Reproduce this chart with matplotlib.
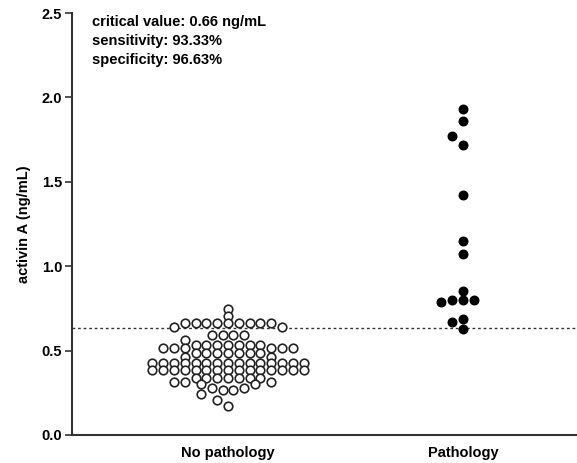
import numpy as np
import matplotlib
matplotlib.use("Agg")
from matplotlib import pyplot as plt

plt.rcParams['font.family'] = ['Liberation Sans', 'DejaVu Sans']

categories = ["No pathology", "Pathology"]

# activin A, ng/mL
no_pathology = [0.745, 0.705,
                0.665, 0.665, 0.665, 0.665, 0.665, 0.665, 0.665, 0.665, 0.665,
                0.64, 0.64,
                0.59, 0.59, 0.59, 0.59, 0.565,
                0.535, 0.535, 0.535, 0.535, 0.535, 0.535, 0.535,
                0.515, 0.515, 0.515, 0.515, 0.515, 0.515,
                0.485, 0.485, 0.485, 0.485, 0.485, 0.485, 0.485,
                0.465, 0.465,
                0.425, 0.425, 0.425, 0.425, 0.425, 0.425, 0.425, 0.425,
                0.425, 0.425, 0.425, 0.425, 0.425, 0.425, 0.425,
                0.385, 0.385, 0.385, 0.385, 0.385, 0.385, 0.385, 0.385,
                0.385, 0.385, 0.385, 0.385, 0.385, 0.385, 0.385,
                0.34, 0.34, 0.34, 0.34, 0.34, 0.34, 0.34,
                0.315, 0.315, 0.315, 0.30, 0.30, 0.28, 0.28, 0.265, 0.265,
                0.245, 0.205, 0.17]
pathology = [1.93, 1.86, 1.77, 1.72, 1.42, 1.15, 1.07, 0.855,
             0.80, 0.80, 0.80, 0.79, 0.69, 0.67, 0.63]

cutoff = 0.635
annotation = ["critical value: 0.66 ng/mL", "sensitivity: 93.33%", "specificity: 96.63%"]


def swarm(ax, values, center, step_px, min_dy_px):
    # GraphPad-like column swarm, worked out in pixel space
    trans = ax.transData
    vals = np.asarray(values)
    ys = np.array([trans.transform((center, v))[1] for v in vals])
    groups = {}
    for i, v in enumerate(vals):
        groups.setdefault(v, []).append(i)
    order = sorted(groups, key=lambda v: (-len(groups[v]), v))
    placed = []
    offsets = np.zeros(len(vals))

    def free(c, y):
        for pc, py in placed:
            if abs(pc - c) < 0.9 and abs(py - y) < min_dy_px:
                return False
        return True

    cands = sorted(np.arange(-30, 31) * 0.5, key=lambda c: (abs(c), c))
    for v in order:
        idx = groups[v]
        n = len(idx)
        y = ys[idx[0]]
        block = [k - (n - 1) / 2 for k in range(n)]
        if all(free(c, y) for c in block):
            for i, c in zip(idx, block):
                placed.append((c, y))
                offsets[i] = c
            continue
        for i in idx:
            for c in cands:
                if free(c, y):
                    placed.append((c, y))
                    offsets[i] = c
                    break
    x0 = trans.transform((center, 0))[0]
    return [trans.inverted().transform((x0 + c * step_px, 0))[0] for c in offsets]


fig = plt.figure(figsize=(5.77, 4.63), dpi=100)
ax = fig.add_axes([0.1248, 0.0605, 0.8752, 0.9114])
ax.set_xlim(-0.664, 1.485)
ax.set_ylim(0, 2.5)

xs0 = swarm(ax, no_pathology, 0, 10.8, 6.0)
xs1 = swarm(ax, pathology, 1, 10.8, 8.6)
ax.scatter(xs0, no_pathology, s=38, facecolors='white', edgecolors='#222222',
           linewidths=1.2, zorder=3)
ax.scatter(xs1, pathology, s=38, color='black', zorder=3)

ax.axhline(cutoff, color='#333333', linestyle=(0, (2, 2)), linewidth=1.0, zorder=2)

for s in ['top', 'right']:
    ax.spines[s].set_visible(False)
for s in ['left', 'bottom']:
    ax.spines[s].set_linewidth(1.5)
    ax.spines[s].set_color('#333333')
ax.set_xticks([0, 1])
ax.set_xticklabels(categories, fontsize=10.5, fontweight='bold')
ax.tick_params(axis='x', length=0, pad=8)
ax.set_yticks([0.0, 0.5, 1.0, 1.5, 2.0, 2.5])
ax.set_yticklabels(['0.0', '0.5', '1.0', '1.5', '2.0', '2.5'], fontsize=10.5, fontweight='bold')
ax.tick_params(axis='y', length=5, width=1.2, color='#333333', pad=2)
ax.set_ylabel("activin A (ng/mL)", fontsize=10.5, fontweight='bold', labelpad=8)

ax.text(0.04, 0.995, "\n".join(annotation), transform=ax.transAxes, fontsize=10.5,
        fontweight='bold', va='top', ha='left', linespacing=1.45)

fig.savefig("out.png", dpi=100)
